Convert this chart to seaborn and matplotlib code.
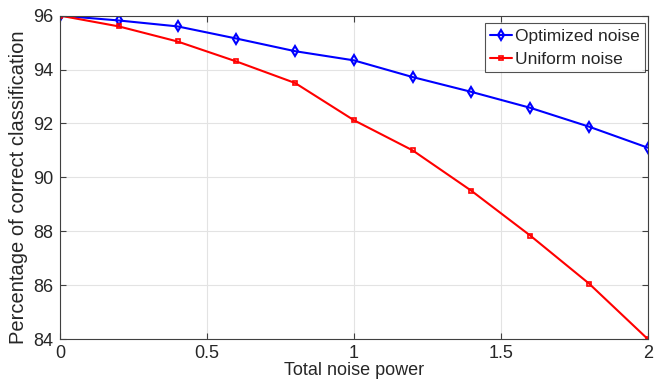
import matplotlib
matplotlib.use('Agg')
import matplotlib.pyplot as plt
import seaborn as sns

# noise power on the x axis
noise_power = [0, 0.2, 0.4, 0.6, 0.8, 1.0, 1.2, 1.4, 1.6, 1.8, 2.0]

# percentage of correct classification
optimized = [96.0, 95.82, 95.6, 95.15, 94.68, 94.34, 93.72, 93.17, 92.58, 91.88, 91.1]
uniform = [96.0, 95.6, 95.04, 94.3, 93.5, 92.12, 91.0, 89.5, 87.84, 86.06, 84.0]

series_names = ['Optimized noise', 'Uniform noise']
x_ticks = [0, 0.5, 1, 1.5, 2]
x_tick_labels = ['0', '0.5', '1', '1.5', '2']
y_ticks = [84, 86, 88, 90, 92, 94, 96]

sns.set_style('white')
plt.rcParams['font.family'] = ['Liberation Sans', 'DejaVu Sans']

fig = plt.figure(figsize=(6.56, 3.81), dpi=100)
ax = fig.add_axes([0.0915, 0.11, 0.896, 0.849])

sns.lineplot(x=noise_power, y=optimized, color='#0000ff', marker='d', markersize=5,
             markerfacecolor='none', markeredgecolor='#0000ff', markeredgewidth=1.5,
             linewidth=1.5, label=series_names[0], ax=ax)
sns.lineplot(x=noise_power, y=uniform, color='#ff0000', marker='s', markersize=3.5,
             markerfacecolor='none', markeredgecolor='#ff0000', markeredgewidth=1.2,
             linewidth=1.5, label=series_names[1], ax=ax)

ax.set_xlim(0, 2)
ax.set_ylim(84, 96)
ax.set_xticks(x_ticks)
ax.set_xticklabels(x_tick_labels)
ax.set_yticks(y_ticks)
ax.grid(True, color='#e3e3e3', linewidth=0.8)
ax.set_axisbelow(True)
for s in ax.spines.values():
    s.set_color('#404040')
    s.set_linewidth(0.8)
ax.tick_params(direction='in', length=4, color='#404040', labelsize=13,
               labelcolor='#262626', top=True, right=True, bottom=True, left=True,
               labeltop=False, labelright=False)
ax.tick_params(axis='x', pad=4)
ax.tick_params(axis='y', pad=5)
ax.set_xlabel('Total noise power', fontsize=13, color='#262626', labelpad=0)
ax.set_ylabel('Percentage of correct classification', fontsize=14.5, color='#262626')
ax.yaxis.set_label_coords(-0.054, 0.47)

leg = ax.legend(loc='upper right', bbox_to_anchor=(0.995, 0.976), fontsize=12.5,
                frameon=True, fancybox=False, edgecolor='#262626',
                handlelength=1.3, handletextpad=0.15, borderpad=0.3,
                labelspacing=0.45, borderaxespad=0)
leg.get_frame().set_linewidth(0.8)

fig.savefig('out.png', dpi=100)
